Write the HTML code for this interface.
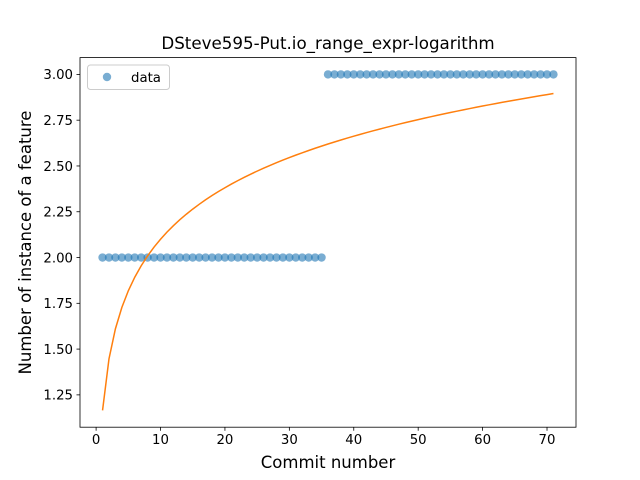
<!DOCTYPE html>
<html><head><meta charset="utf-8"><style>
html,body{margin:0;padding:0;background:#fff;}
svg{display:block;font-family:"DejaVu Sans","Liberation Sans",sans-serif;}
</style></head><body>
<svg id="chart" width="640" height="480" viewBox="0 0 640 480">
<rect x="0" y="0" width="640" height="480" fill="#fff"/>
<text x="328" y="49" text-anchor="middle" font-size="16.7" fill="#000">DSteve595-Put.io_range_expr-logarithm</text>
<g id="plot"></g>
<text x="328" y="468" text-anchor="middle" font-size="16.5">Commit number</text>
<text transform="translate(31,242.5) rotate(-90)" text-anchor="middle" font-size="16.5">Number of instance of a feature</text>
</svg>
<script>
const xValues = [];
for (let i = 1; i <= 71; i++) xValues.push(i);
const yValues = [2,2,2,2,2,2,2,2,2,2,2,2,2,2,2,2,2,2,2,2,2,2,2,2,2,2,2,2,2,2,2,2,2,2,2,
3,3,3,3,3,3,3,3,3,3,3,3,3,3,3,3,3,3,3,3,3,3,3,3,3,3,3,3,3,3,3,3,3,3,3,3,3];
const xTicks = [0,10,20,30,40,50,60,70];
const yTicks = [1.25,1.50,1.75,2.00,2.25,2.50,2.75,3.00];
const yTickLabels = ["1.25","1.50","1.75","2.00","2.25","2.50","2.75","3.00"];

const NS = "http://www.w3.org/2000/svg";
const L = 80, R = 576, T = 57.6, B = 427.2;
const n = xValues.length;
let sl=0, sy=0, sll=0, sly=0;
for (let i=0;i<n;i++){const l=Math.log(xValues[i]);sl+=l;sy+=yValues[i];sll+=l*l;sly+=l*yValues[i];}
const b = (n*sly - sl*sy)/(n*sll - sl*sl), a = (sy - b*sl)/n;
const fitY = xValues.map(x => a + b*Math.log(x));
const xmin0 = Math.min(...xValues), xmax0 = Math.max(...xValues);
const allY = yValues.concat(fitY);
const ymin0 = Math.min(...allY), ymax0 = Math.max(...allY);
const xm = (xmax0-xmin0)*0.05, ym = (ymax0-ymin0)*0.05;
const xmin = xmin0-xm, xmax = xmax0+xm, ymin = ymin0-ym, ymax = ymax0+ym;
const sx = v => L + (v - xmin)/(xmax - xmin)*(R - L);
const syf = v => B - (v - ymin)/(ymax - ymin)*(B - T);

const g = document.getElementById('plot');
function mk(tag, attrs){const e=document.createElementNS(NS,tag);for(const k in attrs)e.setAttribute(k,attrs[k]);g.appendChild(e);return e;}

const pts = document.createElementNS(NS,'g');


g.appendChild(pts);
for (let i=0;i<n;i++){
  const c=document.createElementNS(NS,'circle');
  c.setAttribute('cx',sx(xValues[i]));c.setAttribute('cy',syf(yValues[i]));c.setAttribute('r',4.2);
  c.setAttribute('fill','#1f77b4');c.setAttribute('fill-opacity','0.6');
  
  
  pts.appendChild(c);
}
const line = mk('polyline',{points:xValues.map((x,i)=>sx(x)+','+syf(fitY[i])).join(' '),fill:'none',stroke:'#ff7f0e','stroke-width':1.5});


const frame = mk('rect',{x:L,y:T,width:R-L,height:B-T,fill:'none',stroke:'#000','stroke-width':0.8});


xTicks.forEach(v=>{
  const x=sx(v);
  mk('line',{x1:x,y1:B,x2:x,y2:B+3.5,stroke:'#000','stroke-width':0.8});
  const t=mk('text',{x:x,y:B+17,'text-anchor':'middle','font-size':13.3});
  t.textContent=v;
  
  
});
yTicks.forEach((v,i)=>{
  const y=syf(v);
  mk('line',{x1:L-3.5,y1:y,x2:L,y2:y,stroke:'#000','stroke-width':0.8});
  const t=mk('text',{x:L-7,y:y+4.8,'text-anchor':'end','font-size':13.3});
  t.textContent=yTickLabels[i];
  
  
});
const lg=mk('rect',{x:87.5,y:65,width:82,height:24.5,rx:3,fill:'#fff','fill-opacity':0.8,stroke:'#ccc','stroke-width':1});


const lc=mk('circle',{cx:107,cy:77,r:4.2,fill:'#1f77b4','fill-opacity':0.6});


const lt=mk('text',{x:131,y:82,'font-size':13.3});
lt.textContent='data';


</script>
</body></html>
